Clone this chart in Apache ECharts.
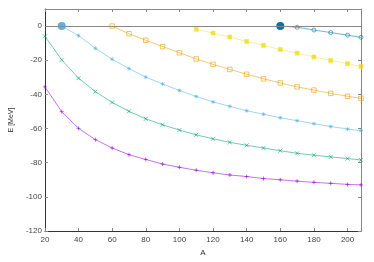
<!DOCTYPE html>
<html><head><meta charset="utf-8">
<script src="https://cdn.jsdelivr.net/npm/echarts@6/dist/echarts.min.js"></script>
<style>html,body{margin:0;padding:0;background:#fff}#c{width:374px;height:262px}</style>
</head><body><div id="c"></div>
<script>
const xTicks = [20, 40, 60, 80, 100, 120, 140, 160, 180, 200];
const yTicks = [-120, -100, -80, -60, -40, -20, 0];

const purpleA = [20,30,40,50,60,70,80,90,100,110,120,130,140,150,160,170,180,190,200,208];
const purpleE = [-35.6,-50.1,-59.9,-66.5,-71.4,-75.3,-78.1,-80.8,-82.7,-84.4,-85.9,-87.2,-88.1,-89.3,-90.0,-90.8,-91.5,-92.1,-92.7,-93.0];

const greenA = [20,30,40,50,60,70,80,90,100,110,120,130,140,150,160,170,180,190,200,208];
const greenE = [-6,-19.8,-30.5,-38.4,-44.7,-49.9,-54.3,-57.8,-60.9,-63.7,-66.0,-68.1,-69.8,-71.4,-73.0,-74.5,-75.6,-76.6,-77.6,-78.4];

const skyA = [30,40,50,60,70,80,90,100,110,120,130,140,150,160,170,180,190,200,208];
const skyE = [0,-5.6,-13.0,-19.4,-24.9,-29.9,-33.9,-37.7,-41.2,-44.4,-47.0,-49.6,-51.6,-53.7,-55.4,-57.2,-58.8,-60.3,-61.2];

const orangeA = [60,70,80,90,100,110,120,130,140,150,160,170,180,190,200,208];
const orangeE = [0,-4.5,-8.3,-12.0,-15.6,-19.2,-22.4,-25.4,-28.2,-30.9,-33.3,-35.6,-37.5,-39.4,-41.1,-42.4];

const yellowA = [110,120,130,140,150,160,170,180,190,200,208];
const yellowE = [-1.9,-4.1,-6.4,-9.0,-11.3,-13.7,-15.8,-18.1,-20.2,-22.0,-23.6];

const blueA = [160,170,180,190,200,208];
const blueE = [0,-0.7,-2.3,-3.8,-5.3,-6.6];

// big dots mark the first point of these series
const bigDotSeries = ['sky', 'blue'];

const PLUS = 'path://M0,5L10,5M5,0L5,10';
const CROSS = 'path://M0,0L10,10M0,10L10,0';
const STAR = 'path://M0,5L10,5M5,0L5,10M1.5,1.5L8.5,8.5M1.5,8.5L8.5,1.5';

function mk(name, A, E, color, symbol, size, fill) {
  const data = A.map((a, i) => {
    const d = { value: [a, E[i]] };
    if (i === 0 && bigDotSeries.includes(name)) {
      d.symbol = 'circle';
      d.symbolSize = 8;
      d.itemStyle = { color: color, borderColor: color, borderWidth: 0, opacity: 1 };
    }
    return d;
  });
  return {
    name, type: 'line', data, symbol, symbolSize: size, showAllSymbol: true,
    lineStyle: { color, width: 1, opacity: 0.55 },
    itemStyle: { color: fill, borderColor: color, borderWidth: 0.8, opacity: 0.75 },
    animation: false, z: 3
  };
}

const font = 'Liberation Sans, Arial, sans-serif';
const chart = echarts.init(document.getElementById('c'), null, { renderer: 'canvas' });

const axisX = (pos, show) => ({
  type: 'value', position: pos, min: 20, max: 208, interval: 20,
  name: show ? 'A' : '', nameLocation: 'middle', nameGap: 18,
  nameTextStyle: { fontFamily: font, fontSize: 8, color: '#333' },
  axisLine: { show: true, onZero: false, lineStyle: { color: show ? '#333' : '#888', width: 1 } },
  axisTick: { show: true, inside: true, length: 3, lineStyle: { color: '#888' } },
  axisLabel: { show: show, fontFamily: font, fontSize: 8, color: '#444', margin: 5, showMaxLabel: false,
    formatter: v => xTicks.includes(v) ? String(v) : '' },
  splitLine: { show: false }
});
const axisY = (pos, show) => ({
  type: 'value', position: pos, min: -120, max: 10, interval: 20,
  name: show ? 'E [MeV]' : '', nameLocation: 'middle', nameGap: 27, nameRotate: 90,
  nameTextStyle: { fontFamily: font, fontSize: 7, color: '#333' },
  axisLine: { show: true, onZero: false, lineStyle: { color: show ? '#333' : '#888', width: 1 } },
  axisTick: { show: true, inside: true, length: 3, lineStyle: { color: '#888' } },
  axisLabel: { show: show, fontFamily: font, fontSize: 8, color: '#444', margin: 3, showMaxLabel: false,
    formatter: v => yTicks.includes(v) ? String(v) : '' },
  splitLine: { show: false }
});

chart.setOption({
  backgroundColor: '#fff',
  animation: false,
  grid: { left: 36, right: 13, top: 9, bottom: 24 },
  xAxis: [axisX('bottom', true), axisX('top', false)],
  yAxis: [axisY('left', true), axisY('right', false)],
  series: [
    { type: 'line', data: [], markLine: { silent: true, symbol: 'none', animation: false,
        label: { show: false }, lineStyle: { color: '#888', type: 'solid', width: 1 },
        data: [{ yAxis: 0 }] }, z: 1 },
    mk('purple', purpleA, purpleE, '#9400d3', PLUS, 4, '#9400d3'),
    mk('green', greenA, greenE, '#009e73', CROSS, 4, '#009e73'),
    mk('sky', skyA, skyE, '#56b4e9', STAR, 4, '#56b4e9'),
    mk('orange', orangeA, orangeE, '#e69f00', 'rect', 4.5, 'rgba(255,255,255,0)'),
    mk('yellow', yellowA, yellowE, '#f0e442', 'rect', 4, '#f0d800'),
    mk('blue', blueA, blueE, '#0072b2', 'circle', 4, 'rgba(255,255,255,0)')
  ]
});
</script></body></html>
